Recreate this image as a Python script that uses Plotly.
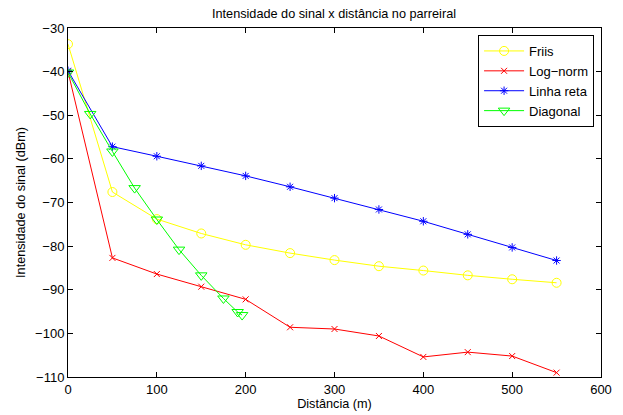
import plotly.graph_objects as go

x_main = [0, 50, 100, 150, 200, 250, 300, 350, 400, 450, 500, 550]
friis = [-33.7, -67.6, -73.8, -77.1, -79.7, -81.6, -83.2, -84.6, -85.6, -86.7, -87.6, -88.4]
lognorm = [-40.0, -82.7, -86.4, -89.3, -92.2, -98.6, -99.0, -100.6, -105.4, -104.3, -105.2, -109.0]
linha_reta = [-39.8, -57.2, -59.4, -61.6, -63.9, -66.4, -69.0, -71.6, -74.3, -77.3, -80.3, -83.3]
x_diag = [0, 25, 50, 75, 100, 125, 150, 175, 191, 196]
diagonal = [-40.2, -49.7, -58.3, -66.7, -73.9, -80.8, -86.7, -92.0, -95.1, -95.8]

x_ticks = [0, 100, 200, 300, 400, 500, 600]
y_ticks = [-110, -100, -90, -80, -70, -60, -50, -40, -30]

font = "Liberation Sans, Arial, Helvetica, sans-serif"

fig = go.Figure()
fig.add_trace(go.Scatter(x=x_main, y=friis, name="Friis", mode="lines+markers",
                         line=dict(color="#ffff00", width=1),
                         marker=dict(symbol="circle-open", size=9, color="#ffff00", line=dict(width=1))))
fig.add_trace(go.Scatter(x=x_main, y=lognorm, name="Log\u2212norm", mode="lines+markers",
                         line=dict(color="#ff0000", width=1),
                         marker=dict(symbol="x-thin-open", size=6, color="#ff0000", line=dict(width=1, color="#ff0000"))))
fig.add_trace(go.Scatter(x=x_main, y=linha_reta, name="Linha reta", mode="lines+markers",
                         line=dict(color="#0000ff", width=1),
                         marker=dict(symbol="asterisk-open", size=7, color="#0000ff", line=dict(width=1, color="#0000ff"))))
fig.add_trace(go.Scatter(x=x_diag, y=diagonal, name="Diagonal", mode="lines+markers",
                         line=dict(color="#00ff00", width=1),
                         marker=dict(symbol="triangle-down-open", size=10, color="#00ff00", line=dict(width=1))))

axis_common = dict(showline=True, linecolor="black", linewidth=1, mirror="allticks",
                   ticks="inside", ticklen=5, tickcolor="black", showgrid=False, zeroline=False,
                   automargin=False,
                   tickfont=dict(family=font, size=13, color="black"))

# page body has an 8px default margin; figure is sized so the plot lands where the reference has it
fig.update_layout(
    width=615, height=407,
    margin=dict(l=60, r=22, t=20, b=38, autoexpand=False),
    paper_bgcolor="white", plot_bgcolor="white",
    title=dict(text="Intensidade do sinal x distância no parreiral", x=(334 - 8) / 615, xanchor="center",
               y=1 - 6 / 407, yanchor="middle", font=dict(family=font, size=12.7, color="black")),
    xaxis=dict(range=[0, 600], tickvals=x_ticks,
               title=dict(text="Distância (m)", font=dict(family=font, size=12.7, color="black"), standoff=2),
               **axis_common),
    yaxis=dict(range=[-110, -30], tickvals=y_ticks, ticktext=[f"\u2212{abs(v)}" for v in y_ticks],
               title=dict(text="Intensidade do sinal (dBm)", font=dict(family=font, size=12.7, color="black"), standoff=6),
               **axis_common),
    legend=dict(x=0.987, y=0.98, xanchor="right", yanchor="top", bordercolor="black", borderwidth=1,
                bgcolor="white", font=dict(family=font, size=13, color="black"),
                tracegroupgap=0, itemwidth=40),
    showlegend=True,
)

fig.write_html("out.html")
